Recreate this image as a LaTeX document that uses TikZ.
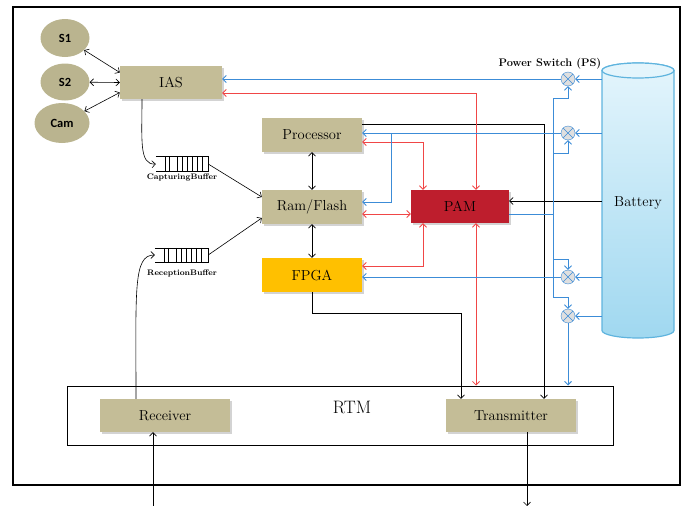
\documentclass[tikz,border=0pt]{standalone}
\usepackage{fontspec}
\usepackage{xcolor}
\usepackage{tikz}
\usetikzlibrary{shapes.geometric, arrows.meta, positioning, calc, shadows}
\newfontfamily\carlito{Carlito}
\definecolor{tanbox}{RGB}{196,189,151}
\definecolor{pamred}{RGB}{190,30,45}
\definecolor{fpgayel}{RGB}{255,192,0}
\definecolor{pwrblue}{RGB}{60,140,215}
\definecolor{ctlred}{RGB}{240,70,70}
\definecolor{battop}{RGB}{228,245,252}
\definecolor{batbot}{RGB}{160,216,240}
\definecolor{batedge}{RGB}{95,180,222}

\begin{document}
\begin{tikzpicture}[x=1pt, y=-1pt,
        >={Straight Barb[length=3.5pt,width=7pt]},
        unit/.style={rectangle, fill=tanbox, inner sep=0pt, minimum width=100pt, minimum height=34pt,
            font=\fontsize{14.5}{16}\selectfont,
            drop shadow={shadow xshift=1.5pt, shadow yshift=-1.5pt, opacity=0.35, fill=gray}},
        sensor/.style={ellipse, fill=tanbox!95!black, inner sep=0pt, font=\carlito\bfseries\fontsize{12.5}{14}\selectfont},
        psw/.style={circle, draw=pwrblue, fill=gray!25, minimum size=14pt, inner sep=0pt,
            path picture={\draw[pwrblue] (path picture bounding box.north west) -- (path picture bounding box.south east)
                (path picture bounding box.north east) -- (path picture bounding box.south west);}},
        pwr/.style={pwrblue, line width=0.9pt},
        ctl/.style={ctlred, line width=0.8pt},
        dat/.style={black, line width=0.6pt},
        qlabel/.style={font=\fontsize{8}{9}\selectfont\bfseries}]

        \useasboundingbox (0,0) rectangle (691,506);

        % Frame and RTM
        \draw[line width=1.5pt] (13,7) rectangle (680,485);
        \node[draw, line width=1pt, minimum width=546pt, minimum height=59pt, inner sep=0pt] (rtm) at (340,415.5) {};
        \node[font=\fontsize{18}{20}\selectfont] (rtmlbl) at (352,407) {RTM};

        % Battery
        \path[top color=battop, bottom color=batbot, draw=batedge, line width=1.2pt]
            (602,70.5) -- (602,330.5) arc[start angle=180, end angle=360, x radius=36pt, y radius=7.5pt]
            -- (674,70.5) arc[start angle=0, end angle=180, x radius=36pt, y radius=7.5pt] -- cycle;
        \path[fill=battop, draw=batedge, line width=1.2pt] (638,70.5) ellipse[x radius=36pt, y radius=7.5pt];
        \node[minimum width=72pt, minimum height=260pt, inner sep=0pt, font=\fontsize{14.5}{16}\selectfont] (battery) at (638,203) {Battery};

        % Sensors
        \node[sensor, minimum width=49pt, minimum height=38pt] (s1) at (65,38) {S1};
        \node[sensor, minimum width=49pt, minimum height=37pt] (s2) at (65,82) {S2};
        \node[sensor, minimum width=55pt, minimum height=40pt] (cam) at (62,123) {Cam};

        % Units
        \node[unit, minimum width=102pt, minimum height=33pt] (ias) at (171,82.5) {IAS};
        \node[unit] (proc) at (312,135) {Processor};
        \node[unit] (ram) at (312,207) {Ram/Flash};
        \node[unit, fill=fpgayel] (fpga) at (312,275) {FPGA};
        \node[unit, fill=pamred, minimum width=98pt, minimum height=33pt] (pam) at (460,206.5) {PAM};
        \node[unit, minimum width=130pt, minimum height=33pt] (rx) at (165,415.5) {Receiver};
        \node[unit, minimum width=130pt, minimum height=33pt] (tx) at (511,415.5) {Transmitter};

        % Buffers
        \node[minimum width=52pt, minimum height=15pt, inner sep=0pt] (cb) at (182,164) {};
        \node[minimum width=53pt, minimum height=14pt, inner sep=0pt] (rb) at (181.5,255) {};
        \foreach \b in {cb, rb} {
            \draw[dat] (\b.north west) -- (\b.north east) -- (\b.south east) -- (\b.south west);
            \foreach \dx in {9,13,21,26,31,36,41,46}
                \draw[dat] ([xshift=\dx pt]\b.north west) -- ([xshift=\dx pt]\b.south west);
        }
        \node[qlabel] (cblbl) at (182,178) {CapturingBuffer};
        \node[qlabel] (rblbl) at (182,273) {ReceptionBuffer};

        % Power switches
        \node[psw] (ps1) at (568,79) {};
        \node[psw] (ps2) at (568,133) {};
        \node[psw] (ps3) at (568,277) {};
        \node[psw] (ps4) at (568,316) {};
        \node[font=\bfseries\fontsize{11}{13}\selectfont] (pslbl) at (550,64) {Power Switch (PS)};

        \coordinate (bt) at (553,98);
        \coordinate (bb) at (553,297);
        \coordinate (jn) at (391,133);
        \coordinate (txout) at (527,506);
        \coordinate (rxin) at (153,506);

        % Data links
        \draw[dat,<->] (s1) -- ([yshift=10pt]ias.west);
        \draw[dat,<->] (s2) -- (ias.west);
        \draw[dat,<->] (cam) -- ([yshift=-10pt]ias.west);
        \draw[dat,->] ([xshift=-29pt]ias.south) .. controls (142,140) and (139,165) .. (cb.west);
        \draw[dat,->] ([xshift=-29pt]rx.north) .. controls (136,290) and (133,255) .. (rb.west);
        \draw[dat,->] (cb.east) -- ([yshift=10pt]ram.west);
        \draw[dat,->] (rb.east) -- ([yshift=-11pt]ram.west);
        \draw[dat,<->] (proc) -- (ram);
        \draw[dat,<->] (ram) -- (fpga);
        \draw[dat,->] (proc.east |- 0,124) -| ([xshift=33pt]tx.north);
        \draw[dat,->] (fpga.south) -- ++(0,21) -| ([xshift=-50pt]tx.north);
        \draw[dat,->] ([xshift=16pt]tx.south) -- (txout);
        \draw[dat,->] (rxin) -- (rxin |- rx.south);
        \draw[dat,->] (battery.west |- 0,201) -- (pam.east |- 0,201);

        % PAM control
        \draw[ctl,<->] (ias.east |- 0,93) -| ([xshift=16pt]pam.north);
        \draw[ctl,<->] (proc.east |- 0,142) -| ([xshift=-37pt]pam.north);
        \draw[ctl,<->] (ram.east |- 0,214) -- (pam.west |- 0,214);
        \draw[ctl,<->] (fpga.east |- 0,266) -| ([xshift=-37pt]pam.south);
        \draw[ctl,<->] ([xshift=16pt]pam.south) -- (rtm.north -| 476,0);

        % Power lines
        \foreach \p in {ps1,ps2,ps3,ps4}
            \draw[pwr,->] (battery.west |- \p) -- (\p);
        \draw[pwr,->] (ps1) -- (ias.east |- ps1);
        \draw[pwr,->] (ps2) -- (proc.east |- ps2);
        \draw[pwr,->] (jn) |- (ram.east |- 0,202);
        \draw[pwr,->] (ps3) -- (fpga.east |- ps3);
        \draw[pwr,->] (ps4) -- (ps4 |- rtm.north);
        \draw[pwr] (bt) -- (bb);
        \draw[pwr] (pam.east |- 0,214) -- (bt |- 0,214);
        \draw[pwr,->] (bt) -| (ps1.south);
        \draw[pwr,->] (bt |- 0,153) -| (ps2.south);
        \draw[pwr,->] (bt |- 0,259) -| (ps3.north);
        \draw[pwr,->] (bb) -| (ps4.north);

    \end{tikzpicture}
\end{document}
